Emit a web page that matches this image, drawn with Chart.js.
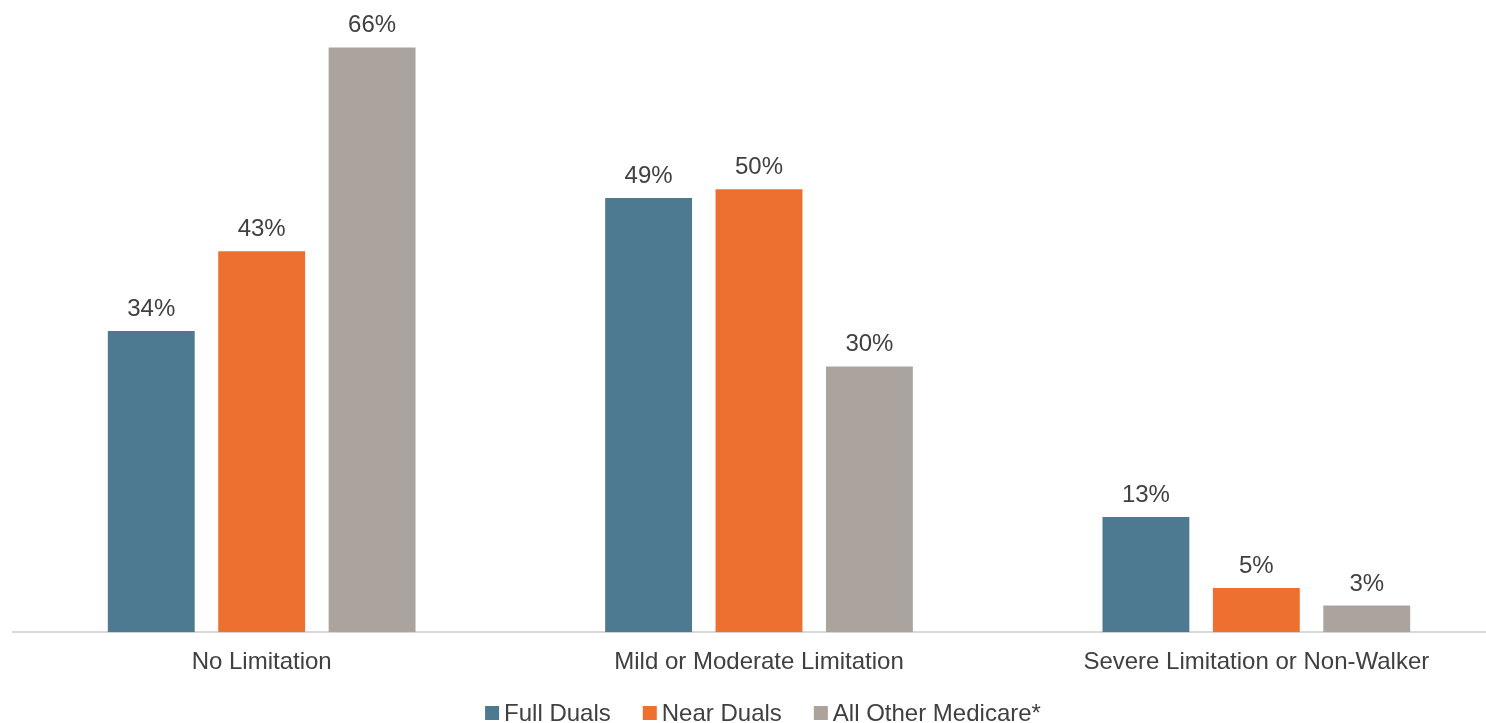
<!DOCTYPE html>
<html lang="en">
<head>
    <meta charset="UTF-8">
    <title>Walking Limitation by Medicare Group</title>
    <script src="https://cdn.jsdelivr.net/npm/chart.js@4.4.1/dist/chart.umd.min.js"></script>
    <style>
        html, body {
            margin: 0;
            padding: 0;
            overflow: hidden;
            background: #fff;
        }

        #container {
            position: relative;
            width: 1518px;
            height: 723px;
        }
    </style>
</head>
<body>

<div id="container">
    <canvas id="chartCanvas"></canvas>
</div>

<script>
    const categories = ['No Limitation', 'Mild or Moderate Limitation', 'Severe Limitation or Non-Walker'];
    const seriesNames = ['Full Duals', 'Near Duals', 'All Other Medicare*'];
    const fullDuals = [34, 49, 13];
    const nearDuals = [43, 50, 5];
    const allOther = [66, 30, 3];
    const seriesColors = ['#4E7A91', '#ED7030', '#ABA39D'];

    const FONT = '24px "Liberation Sans", Arial, sans-serif';
    const TEXT_COLOR = '#404040';

    // percentage labels above each bar
    const valueLabels = {
        id: 'valueLabels',
        afterDatasetsDraw(chart) {
            const ctx = chart.ctx;
            ctx.save();
            ctx.font = FONT;
            ctx.fillStyle = TEXT_COLOR;
            ctx.textAlign = 'center';
            ctx.textBaseline = 'alphabetic';
            chart.data.datasets.forEach((ds, i) => {
                chart.getDatasetMeta(i).data.forEach((bar, j) => {
                    ctx.fillText(ds.data[j] + '%', bar.x, bar.y - 15);
                });
            });
            ctx.restore();
        }
    };

    // compact legend: small square, tight gap before the text
    const bottomLegend = {
        id: 'bottomLegend',
        afterDraw(chart) {
            const ctx = chart.ctx;
            const box = 14, gap = 5, spacing = 32;
            ctx.save();
            ctx.font = FONT;
            const widths = chart.data.datasets.map(ds => ctx.measureText(ds.label).width);
            const total = widths.reduce((a, w) => a + box + gap + w, 0) + spacing * (widths.length - 1);
            const area = chart.chartArea;
            let x = (area.left + area.right) / 2 + 4 - total / 2;
            const y = 713;
            ctx.textBaseline = 'middle';
            ctx.textAlign = 'left';
            chart.data.datasets.forEach((ds, i) => {
                ctx.fillStyle = ds.backgroundColor;
                ctx.fillRect(x, y - box / 2, box, box);
                ctx.fillStyle = TEXT_COLOR;
                ctx.fillText(ds.label, x + box + gap, y + 1);
                x += box + gap + widths[i] + spacing;
            });
            ctx.restore();
        }
    };

    const datasets = [fullDuals, nearDuals, allOther].map((values, i) => ({
        label: seriesNames[i],
        data: values,
        backgroundColor: seriesColors[i],
        categoryPercentage: 0.666,
        barPercentage: 0.787
    }));

    const ctx = document.getElementById('chartCanvas').getContext('2d');
    const chart = new Chart(ctx, {
        type: 'bar',
        data: {
            labels: categories,
            datasets: datasets
        },
        options: {
            responsive: true,
            maintainAspectRatio: false,
            animation: false,
            layout: {
                padding: { top: 12, left: 13, right: 13, bottom: 38 }
            },
            plugins: {
                legend: { display: false },
                tooltip: { enabled: false }
            },
            scales: {
                x: {
                    grid: { display: false },
                    border: { color: '#D9D9D9', width: 2 },
                    ticks: {
                        color: TEXT_COLOR,
                        padding: 8,
                        font: { size: 24, family: '"Liberation Sans", Arial, sans-serif' }
                    }
                },
                y: {
                    display: false,
                    min: 0,
                    max: 70
                }
            }
        },
        plugins: [valueLabels, bottomLegend]
    });
</script>

</body>
</html>
